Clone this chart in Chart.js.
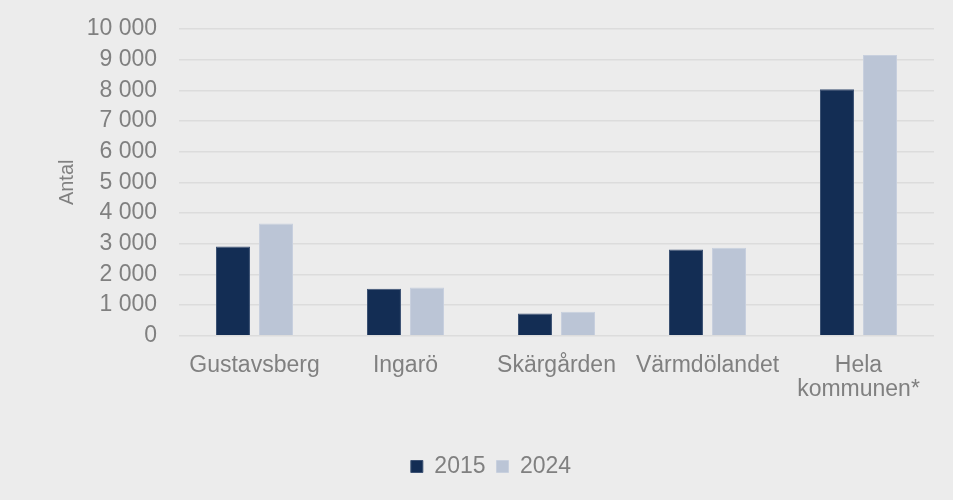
<!DOCTYPE html>
<html>
<head>
<meta charset="utf-8">
<script src="https://cdn.jsdelivr.net/npm/chart.js@4/dist/chart.umd.min.js"></script>
<style>
html,body{margin:0;padding:0;background:#ececec;}
#wrap{width:953px;height:500px;}
</style>
</head>
<body>
<div id="wrap"><canvas id="c" width="953" height="500"></canvas></div>
<script>
const categories = ['Gustavsberg', 'Ingarö', 'Skärgården', 'Värmdölandet', ['Hela', 'kommunen*']];
const values2015 = [2910, 1530, 720, 2810, 8030];
const values2024 = [3660, 1570, 780, 2870, 9150];
const seriesLabels = ['2015', '2024'];
const yTicks = [0, 1000, 2000, 3000, 4000, 5000, 6000, 7000, 8000, 9000, 10000];

function fmt(v){ return String(v).replace(/\B(?=(\d{3})+(?!\d))/g, ' '); }

const FONT = "'Liberation Sans', Arial, sans-serif";
const GREY = '#808080';

new Chart(document.getElementById('c'), {
  type: 'bar',
  data: {
    labels: categories,
    datasets: [
      { label: seriesLabels[0], data: values2015, backgroundColor: '#132d54', borderColor: '#3d5274', borderWidth: 1, categoryPercentage: 0.57, barPercentage: 0.79 },
      { label: seriesLabels[1], data: values2024, backgroundColor: '#bbc5d6', borderColor: '#c8d0de', borderWidth: 1, categoryPercentage: 0.57, barPercentage: 0.79 }
    ]
  },
  options: {
    responsive: false,
    animation: false,
    layout: { padding: { top: 19, right: 19, left: 48, bottom: 12 } },
    plugins: {
      legend: {
        position: 'bottom',
        labels: {
          font: { family: FONT, size: 23 },
          color: GREY,
          boxWidth: 12, boxHeight: 12,
          padding: 11,
          useBorderRadius: false
        }
      },
      tooltip: { enabled: false }
    },
    scales: {
      x: {
        grid: { display: false },
        border: { display: false },
        ticks: { font: { family: FONT, size: 23, lineHeight: 1.05 }, color: GREY, maxRotation: 0, autoSkip: false, padding: 10 },
        afterFit: (s) => { s.height += 32; }
      },
      y: {
        min: 0, max: 10000,
        afterBuildTicks: (s) => { s.ticks = yTicks.map(v => ({ value: v })); },
        afterFit: (s) => { s.width = 131; },
        grid: { color: '#dcdcdc', lineWidth: 1.5, drawTicks: false },
        border: { display: false },
        ticks: { font: { family: FONT, size: 23, lineHeight: 0.6 }, color: GREY, padding: 22, callback: (v) => fmt(v) },
        title: { display: true, text: 'Antal', font: { family: FONT, size: 20 }, color: GREY, padding: { top: 7, bottom: 0 } }
      }
    }
  }
});
</script>
</body>
</html>
